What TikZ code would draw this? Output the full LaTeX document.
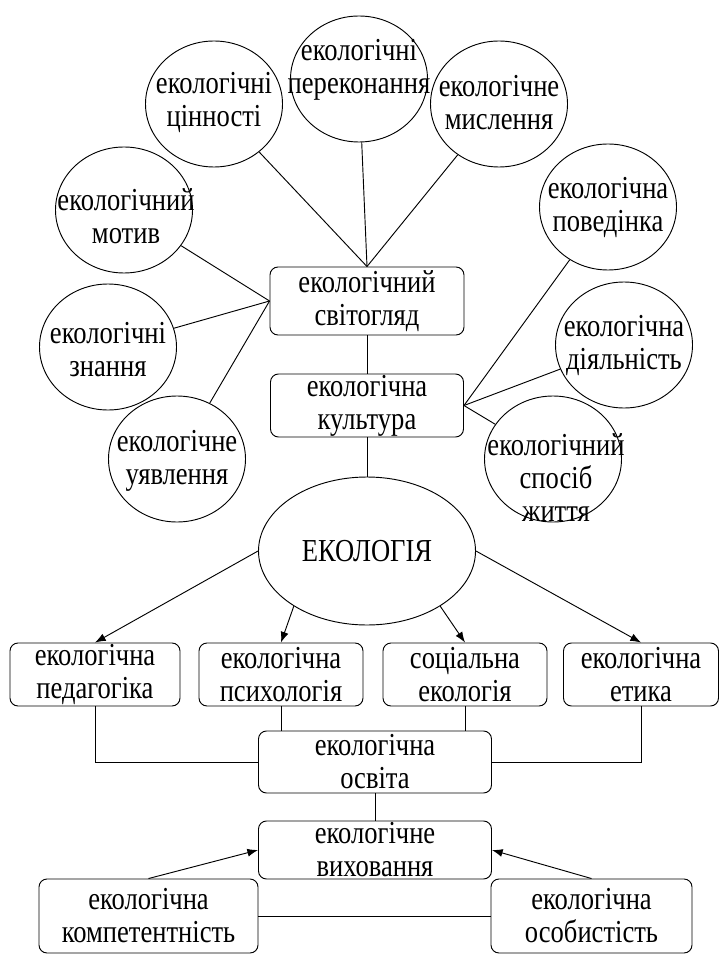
\documentclass[tikz,border=0pt]{standalone}
\usepackage{fontspec}
\setmainfont{Liberation Serif}[FakeStretch=0.83]
\usetikzlibrary{shapes.geometric,arrows.meta}

\begin{document}
\begin{tikzpicture}[x=0.75pt,y=-0.75pt,line width=0.7pt,
  >={Latex[length=8pt,width=6pt]},
  every node/.style={font=\fontsize{24}{24.75}\selectfont,align=center,inner sep=0pt},
  oval/.style={draw,ellipse,minimum width=102.75pt,minimum height=94.5pt},
  box/.style={draw,rounded corners=6pt,minimum height=47.25pt}]
\useasboundingbox (0,0) rectangle (720,955);
% upper ovals:
\node[oval] (perek) at (359,79) {};
\node (perek-t) at (359,70) {екологічні\\переконання};
\node[oval] (cinn) at (214,104) {};
\node (cinn-t) at (214,103) {екологічні\\цінності};
\node[oval] (mysl) at (499,104) {};
\node (mysl-t) at (499,103) {екологічне\\мислення};
\node[oval] (motyv) at (124,210) {};
\node (motyv-t) at (126,216) {екологічний\\мотив};
\node[oval] (poved) at (608,207) {};
\node (poved-t) at (608,208) {екологічна\\поведінка};
\node[oval] (znan) at (108,347) {};
\node (znan-t) at (108,350) {екологічні\\знання};
\node[oval] (diyal) at (624,345) {};
\node (diyal-t) at (624,345) {екологічна\\діяльність};
\node[oval] (uyavl) at (177,459) {};
\node (uyavl-t) at (177,461) {екологічне\\уявлення};
\node[oval] (sposib) at (553,459) {};
\node (sposib-t) at (556,478) {екологічний\\спосіб\\життя};
% middle:
\node[box,minimum width=145.5pt,minimum height=51pt] (svit) at (367,301) {екологічний\\світогляд};
\node[box,minimum width=144.75pt] (kult) at (367,405.5) {екологічна\\культура};
\node[draw,ellipse,minimum width=162.75pt,minimum height=111pt] (eko) at (367,551) {ЕКОЛОГІЯ};
\draw (cinn) -- (svit.north);
\draw (perek) -- (svit.north);
\draw (mysl) -- (svit.north);
\draw (motyv) -- (svit.west);
\draw (znan) -- (svit.west);
\draw (uyavl) -- (svit.west);
\draw (poved) -- (kult.east);
\draw (diyal) -- (kult.east);
\draw (sposib) -- (kult.east);
\draw (svit) -- (kult);
\draw (kult) -- (eko);
% lower boxes:
\node[box,minimum width=127.5pt] (ped) at (95,674.5) {екологічна\\педагогіка};
\node[box,minimum width=123pt] (psych) at (281,674.5) {екологічна\\психологія};
\node[box,minimum width=123pt] (soc) at (465,674.5) {соціальна\\екологія};
\node[box,minimum width=116.25pt] (etyka) at (641,674.5) {екологічна\\етика};
\node[box,minimum width=174.75pt,minimum height=46.5pt] (osv) at (375,762) {екологічна\\освіта};
\node[box,minimum width=174.75pt,minimum height=43.5pt] (vykh) at (375,850) {екологічне\\виховання};
\node[box,minimum width=164.25pt,minimum height=55.5pt] (komp) at (148.5,916) {екологічна\\компетентність};
\node[box,minimum width=150.75pt,minimum height=55.5pt] (osob) at (591.5,916) {екологічна\\особистість};
\draw[->] (eko.west) -- (ped.north);
\draw[->] (eko.217) -- (psych.north);
\draw[->] (eko.323) -- (soc.north);
\draw[->] (eko.east) -- (etyka.north);
\draw (ped.south) |- (osv.west);
\draw (etyka.south) |- (osv.east);
\draw (psych.south) -- (psych.south |- osv.north);
\draw (soc.south) -- (soc.south |- osv.north);
\draw (osv) -- (vykh);
\draw[->] (komp.north) -- (vykh.west);
\draw[->] (osob.north) -- (vykh.east);
\draw (komp) -- (osob);
\end{tikzpicture}
\end{document}
